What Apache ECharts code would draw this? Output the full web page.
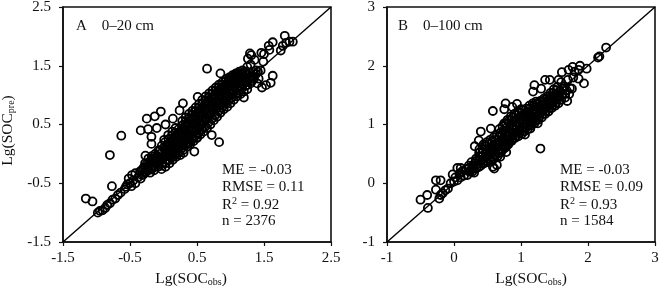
<!DOCTYPE html>
<html><head><meta charset="utf-8">
<style>html,body{margin:0;padding:0;background:#fff}#c{width:660px;height:287px}</style>
<script src="https://cdn.jsdelivr.net/npm/echarts@6/dist/echarts.min.js"></script>
</head><body><div id="c"></div>
<script>
const outliersA = [[-1.16,-0.76],[-1.06,-0.81],[-0.8,-0.02],[-0.77,-0.55],[-0.63,0.31],[-0.34,0.4],[-0.23,0.42],[-0.25,0.6],[-0.13,0.64],[-0.04,0.72],[0.03,0.5],[-0.18,0.29],[-0.18,0.17],[-0.27,-0.03],[0.65,1.45],[0.85,1.37],[0.72,0.32],[0.83,0.2],[0.46,0.04],[1.63,1.33],[1.6,1.21],[1.53,1.17],[1.47,1.13],[1.81,2.01],[1.93,1.91],[1.88,1.91],[1.83,1.89],[1.75,1.76],[1.78,1.84],[1.63,1.9],[1.57,1.84],[1.58,1.77],[1.46,1.72],[1.5,1.7],[1.29,1.71],[1.26,1.62],[1.31,1.68],[1.49,1.57],[1.41,1.4],[1.38,1.36],[1.36,1.6],[0.29,0.86],[0.24,0.74],[0.51,0.97],[0.14,0.6],[-0.1,0.44],[1.2,0.96],[1.25,1.48],[1.3,1.52],[1.4,1.2],[0.5,0.28],[0.37,0.17],[0.3,0.02]];
const bandA = [[-0.98,-1],[-0.95,-0.97],[-0.91,-0.96],[-0.87,-0.92],[-0.84,-0.87],[-0.8,-0.84],[-0.76,-0.78],[-0.72,-0.76],[-0.68,-0.7],[-0.64,-0.66],[-0.58,-0.6],[-0.56,-0.56],[-0.54,-0.52],
[-0.52,-0.42],[-0.5,-0.5],[-0.48,-0.55],[-0.47,-0.36],[-0.45,-0.45],[-0.42,-0.5],[-0.42,-0.33],[-0.38,-0.4],[-0.35,-0.3],[-0.34,-0.42],[-0.3,-0.35],[-0.3,-0.24],[-0.26,-0.3],[-0.25,-0.17],[-0.22,-0.24],[-0.2,-0.32],[-0.2,-0.12],[-0.16,-0.2],[-0.15,-0.08],[-0.14,-0.28],[-0.11,-0.14],[-0.1,-0.03],[-0.08,-0.22],[-0.06,-0.09],[-0.05,0.06],[-0.03,-0.26],[-0.02,-0.16],[0,-0.04],[0,0.1],[0.01,0.24],[0.03,-0.22],
[0.05,-0.1],[0.05,0.02],[0.06,0.16],[0.07,0.32],[0.09,-0.16],[0.1,-0.05],[0.1,0.08],[0.11,0.22],[0.13,0.38],[0.14,-0.1],[0.15,0.02],[0.15,0.14],[0.16,0.28],[0.18,0.44],[0.19,-0.05],[0.2,0.08],[0.2,0.2],[0.21,0.34],[0.23,0.02],[0.25,-0.02],[0.25,0.13],[0.25,0.26],[0.26,0.4],[0.28,0.56],[0.3,0.07],[0.3,0.19],[0.3,0.32],[0.31,0.46],[0.33,0.62],[0.35,0.12],[0.35,0.25],[0.35,0.38],[0.36,0.52],[0.38,0.68],[0.4,0.17],[0.4,0.3],[0.4,0.44],[0.41,0.58],[0.43,0.73],[0.45,0.22],[0.45,0.36],[0.45,0.5],[0.46,0.64],[0.48,0.79],[0.5,0.27],[0.5,0.42],[0.5,0.56],[0.51,0.7],[0.53,0.85],[0.55,0.33],[0.55,0.48],[0.55,0.62],[0.56,0.76],[0.58,0.92],[0.6,0.38],[0.6,0.54],[0.6,0.68],[0.61,0.82],[0.63,0.98],[0.65,0.44],[0.65,0.6],[0.65,0.74],[0.66,0.88],[0.68,1.03],[0.7,0.5],[0.7,0.66],[0.7,0.8],[0.71,0.94],[0.73,1.08],[0.75,0.57],[0.75,0.72],[0.75,0.86],[0.76,1],[0.78,1.13],[0.8,0.63],[0.8,0.78],[0.8,0.92],[0.81,1.06],[0.83,1.18],[0.85,0.7],[0.85,0.84],[0.85,0.98],[0.86,1.12],[0.88,1.22],[0.9,0.76],[0.9,0.9],[0.9,1.04],[0.91,1.17],[0.93,1.27],[0.95,0.8],[0.95,0.96],[0.95,1.1],[0.96,1.22],[0.98,1.3],[1,0.86],[1,1.02],[1,1.15],[1.01,1.27],[1.03,1.34],[1.05,0.92],[1.05,1.07],[1.05,1.2],[1.06,1.31],[1.08,1.37],[1.1,0.98],[1.1,1.12],[1.1,1.25],[1.11,1.35],[1.13,1.4],[1.15,1.02],[1.15,1.16],[1.15,1.28],[1.16,1.37],[1.2,1.06],[1.2,1.2],[1.2,1.32],[1.21,1.4],[1.25,1.1],[1.25,1.24],[1.25,1.36],[1.28,1.3],[1.3,1.2],[1.33,1.32],[1.25,1.17],[1.27,1.3],[1.29,1.38],[1.22,1.38],[1.18,1.42],[1.3,1.28],[1.32,1.24],[1.33,1.4],[1.35,1.28],[1.38,1.42],[1.42,1.28],[1.45,1.42]];
const coreA = [[-0.325,-0.36],[-0.325,-0.28],[-0.275,-0.32],[-0.275,-0.24],[-0.275,-0.16],[-0.225,-0.28],[-0.225,-0.18],[-0.225,-0.08],[-0.175,-0.26],[-0.175,-0.14],[-0.175,-0.04],[-0.125,-0.22],[-0.125,-0.1],[-0.125,0],[-0.075,-0.18],[-0.075,-0.06],[-0.075,0.06],[-0.025,-0.2],[-0.025,-0.1],[-0.025,0.02],[-0.025,0.14],[0.025,-0.16],[0.025,-0.04],[0.025,0.08],[0.025,0.2],[0.075,-0.11],[0.075,0.01],[0.075,0.13],[0.075,0.25],[0.125,-0.06],[0.125,0.06],[0.125,0.18],[0.125,0.31],[0.175,-0.01],[0.175,0.11],[0.175,0.24],[0.175,0.36],[0.225,0.05],[0.225,0.17],[0.225,0.3],[0.225,0.42],[0.275,0.1],[0.275,0.22],[0.275,0.35],[0.275,0.48],[0.325,0.15],[0.325,0.28],[0.325,0.41],[0.325,0.54],[0.375,0.2],[0.375,0.33],[0.375,0.47],[0.375,0.6],[0.425,0.25],[0.425,0.39],[0.425,0.53],[0.425,0.66],[0.475,0.31],[0.475,0.45],[0.475,0.59],[0.475,0.72],[0.525,0.36],[0.525,0.51],[0.525,0.65],[0.525,0.78],[0.575,0.42],[0.575,0.57],[0.575,0.71],[0.575,0.85],[0.625,0.47],[0.625,0.62],[0.625,0.77],[0.625,0.9],[0.675,0.54],[0.675,0.69],[0.675,0.83],[0.675,0.96],[0.725,0.6],[0.725,0.75],[0.725,0.89],[0.725,1.02],[0.775,0.66],[0.775,0.81],[0.775,0.95],[0.775,1.07],[0.825,0.73],[0.825,0.87],[0.825,1.01],[0.825,1.13],[0.875,0.79],[0.875,0.93],[0.875,1.07],[0.875,1.18],[0.925,0.85],[0.925,0.99],[0.925,1.13],[0.925,1.23],[0.975,0.91],[0.975,1.05],[0.975,1.18],[0.975,1.27],[1.025,0.96],[1.025,1.1],[1.025,1.23],[1.025,1.31],[1.075,1.02],[1.075,1.16],[1.075,1.28],[1.075,1.35],[1.125,1.08],[1.125,1.21],[1.125,1.32],[1.175,1.12],[1.175,1.25],[1.175,1.35],[1.225,1.16],[1.225,1.29]];
const outliersB = [[-0.5,-0.28],[-0.4,-0.2],[-0.39,-0.42],[-0.27,0.05],[-0.2,0.05],[-0.27,-0.11],[-0.22,-0.26],[-0.2,-0.2],[-0.17,-0.17],[-0.13,-0.12],[-0.09,-0.09],[-0.02,0.15],[0.05,0.26],[0.1,0.26],[0.58,1.23],[0.4,0.88],[0.55,0.93],[0.31,0.63],[0.37,0.73],[0.77,1.36],[0.75,1.26],[0.94,1.35],[0.87,1.3],[1.29,0.59],[1.2,1.67],[1.18,1.56],[1.3,1.61],[1.36,1.76],[1.43,1.76],[1.61,1.89],[1.69,1.4],[1.76,1.61],[1.56,1.76],[1.7,1.76],[1.71,1.93],[1.77,1.98],[1.88,2],[1.98,1.95],[1.86,1.93],[1.8,1.9],[1.86,1.78],[1.94,1.7],[1.78,1.8],[2.17,2.16],[2.15,2.14],[2.27,2.31],[0.6,0.25],[0.64,0.31],[0.58,0.28],[0.69,0.45],[0.78,0.53],[1.06,0.83],[1.25,1.02],[1.14,0.93],[1.65,1.65],[1.6,1.72],[1.66,1.52]];
const bandB = [[-0.05,0],[0,0.03],[0.02,0.1],[0.05,0.05],[0.08,0.16],[0.1,0.1],[0.12,0.2],[0.15,0.13],[0.18,0.24],[0.2,0.14],[0.22,0.3],[0.24,0.2],[0.26,0.36],[0.28,0.25],[0.3,0.18],[0.31,0.34],[0.33,0.42],[0.34,0.26],[0.36,0.34],[0.38,0.46],[0.38,0.58],[0.4,0.3],[0.42,0.4],[0.43,0.52],[0.44,0.66],[0.45,0.34],[0.47,0.44],[0.48,0.56],[0.49,0.7],[0.5,0.36],[0.52,0.47],[0.53,0.6],[0.54,0.74],[0.55,0.39],[0.57,0.5],[0.58,0.63],[0.59,0.78],[0.6,0.42],[0.62,0.54],[0.63,0.67],[0.64,0.82],[0.65,0.46],[0.67,0.58],[0.68,0.71],[0.69,0.86],[0.7,0.52],[0.72,0.62],[0.73,0.75],[0.74,0.9],[0.75,1.02],[0.76,0.6],[0.77,0.68],[0.78,0.8],[0.79,0.95],[0.8,1.08],[0.81,0.66],[0.82,0.74],[0.83,0.86],[0.84,1],[0.85,1.14],[0.86,0.72],[0.87,0.8],[0.88,0.92],[0.89,1.05],[0.9,1.18],[0.91,0.77],[0.92,0.86],[0.93,0.97],[0.94,1.1],[0.95,1.22],[0.96,0.8],[0.97,0.9],[0.98,1.02],[0.99,1.14],[1,1.26],[1.01,0.84],[1.02,0.95],[1.03,1.07],[1.04,1.18],[1.05,0.88],[1.07,1],[1.08,1.12],[1.09,1.22],[1.1,0.92],[1.12,1.04],[1.13,1.16],[1.14,1.28],[1.15,0.98],[1.17,1.08],[1.18,1.2],[1.19,1.32],[1.2,1.02],[1.22,1.13],[1.23,1.24],[1.24,1.36],[1.26,1.08],[1.27,1.18],[1.28,1.29],[1.29,1.4],[1.31,1.12],[1.32,1.23],[1.33,1.34],[1.34,1.44],[1.36,1.18],[1.37,1.28],[1.38,1.38],[1.39,1.48],[1.41,1.22],[1.42,1.33],[1.43,1.43],[1.44,1.54],[1.46,1.28],[1.47,1.38],[1.48,1.48],[1.49,1.6],[1.51,1.32],[1.52,1.42],[1.53,1.52],[1.54,1.64],[1.56,1.36],[1.57,1.47],[1.58,1.57],[1.6,1.42],[1.62,1.52],[1.63,1.62],[1.66,1.46],[1.68,1.58],[1.72,1.52],[1.73,1.62]];
const coreB = [[0.225,0.2],[0.225,0.26],[0.275,0.3],[0.275,0.2],[0.325,0.3],[0.325,0.38],[0.375,0.28],[0.375,0.4],[0.375,0.52],[0.425,0.34],[0.425,0.46],[0.425,0.58],[0.475,0.38],[0.475,0.5],[0.475,0.63],[0.525,0.42],[0.525,0.54],[0.525,0.67],[0.575,0.45],[0.575,0.57],[0.575,0.71],[0.625,0.48],[0.625,0.6],[0.625,0.74],[0.675,0.52],[0.675,0.65],[0.675,0.79],[0.675,0.92],[0.725,0.57],[0.725,0.69],[0.725,0.83],[0.725,0.97],[0.775,0.63],[0.775,0.74],[0.775,0.88],[0.775,1.02],[0.825,0.7],[0.825,0.8],[0.825,0.93],[0.825,1.07],[0.875,0.76],[0.875,0.86],[0.875,0.98],[0.875,1.12],[0.925,0.81],[0.925,0.91],[0.925,1.04],[0.925,1.16],[0.975,0.85],[0.975,0.96],[0.975,1.08],[0.975,1.2],[1.025,0.9],[1.025,1.01],[1.025,1.13],[1.025,1.24],[1.075,0.95],[1.075,1.06],[1.075,1.17],[1.075,1.27],[1.125,0.99],[1.125,1.1],[1.125,1.22],[1.125,1.32],[1.175,1.03],[1.175,1.14],[1.175,1.26],[1.175,1.36],[1.225,1.08],[1.225,1.19],[1.225,1.3],[1.225,1.39],[1.275,1.13],[1.275,1.24],[1.275,1.35],[1.325,1.18],[1.325,1.29],[1.325,1.39],[1.375,1.23],[1.375,1.33],[1.375,1.43],[1.425,1.28],[1.425,1.38],[1.425,1.48],[1.475,1.33],[1.475,1.43],[1.475,1.54],[1.525,1.37],[1.525,1.47],[1.525,1.58]];
const diagA = [[-1.5,-1.5],[2.5,2.5]];
const diagB = [[-1,-1],[3,3]];
const statsA = ['ME = -0.03','RMSE = 0.11','R{u|2} = 0.92','n = 2376'];
const statsB = ['ME = -0.03','RMSE = 0.09','R{u|2} = 0.93','n = 1584'];

const font = '"Liberation Serif","Times New Roman",serif';
const ink = '#111';
const grids = [{left:63,top:7,width:268,height:235,show:true,outerBoundsMode:'none',containLabel:false,borderColor:ink,borderWidth:1.6,backgroundColor:'transparent'},
               {left:387,top:7,width:268,height:235,show:true,outerBoundsMode:'none',containLabel:false,borderColor:ink,borderWidth:1.6,backgroundColor:'transparent'}];
function axis(idx,min,max,type){
  return {type:'value',gridIndex:idx,min,max,interval:1,splitLine:{show:false},
    axisLine:{onZero:false,lineStyle:{color:ink,width:1.6}},
    axisTick:{length:4,lineStyle:{color:ink,width:1.2}},
    axisLabel:{fontFamily:font,fontSize:15,color:ink,margin:type==='x'?9:12,showMinLabel:true,showMaxLabel:true,hideOverlap:false}};
}
function nameStyle(padding){return {fontFamily:font,fontSize:15.5,color:ink,padding,rich:{s:{fontFamily:font,fontSize:10,color:ink,padding:[7,0,0,0]}}};}
const xs=[Object.assign(axis(0,-1.5,2.5,'x'),{name:'Lg(SOC{s|obs})',nameLocation:'middle',nameGap:23,nameTextStyle:nameStyle([0,12,0,0])}),
          Object.assign(axis(1,-1,3,'x'),{name:'Lg(SOC{s|obs})',nameLocation:'middle',nameGap:23,nameTextStyle:nameStyle([0,0,0,20])})];
const ys=[Object.assign(axis(0,-1.5,2.5,'y'),{name:'Lg(SOC{s|pre})',nameLocation:'middle',nameGap:47,nameTextStyle:nameStyle([0,12,0,0])}),
          axis(1,-1,3,'y')];
function scatter(idx,data){return {type:'scatter',xAxisIndex:idx,yAxisIndex:idx,data,symbol:'circle',symbolSize:8,silent:true,
  itemStyle:{color:'rgba(0,0,0,0)',borderColor:'#000',borderWidth:1.8,opacity:1},z:3};}
function diag(idx,data){return {type:'line',xAxisIndex:idx,yAxisIndex:idx,data,symbol:'none',silent:true,lineStyle:{color:'#000',width:1.4},z:2};}
function label(x,y,text){return {type:'text',x,y,silent:true,z:10,style:{text,fontFamily:font,fontSize:15,fill:ink,
  rich:{u:{fontFamily:font,fontSize:10,fill:ink,padding:[0,0,7,0]}}}};}
const graphic=[label(76,19,'A    0–20 cm'),label(398,19,'B    0–100 cm')];
statsA.forEach((t,i)=>graphic.push(label(222,162.5+i*17,t)));
statsB.forEach((t,i)=>graphic.push(label(560,162.5+i*17,t)));
const chart=echarts.init(document.getElementById('c'),null,{renderer:'canvas'});
chart.setOption({animation:false,backgroundColor:'#fff',grid:grids,xAxis:xs,yAxis:ys,graphic,
  series:[diag(0,diagA),scatter(0,outliersA.concat(bandA,coreA)),diag(1,diagB),scatter(1,outliersB.concat(bandB,coreB))]});
</script></body></html>
